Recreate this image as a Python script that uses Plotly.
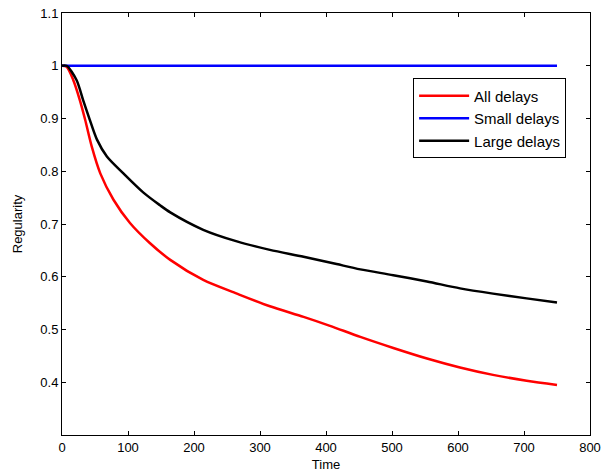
import plotly.graph_objects as go

# Time samples and series values
t_all = [0, 7, 17, 27, 35, 45, 58, 78, 103, 133, 164, 214, 265, 315, 366, 406, 452, 502, 553, 603, 653, 704, 750]
v_all = [1.0, 0.998, 0.973, 0.935, 0.898, 0.847, 0.796, 0.746, 0.702, 0.664, 0.632, 0.594, 0.568, 0.544, 0.524, 0.507, 0.486, 0.465, 0.445, 0.428, 0.414, 0.403, 0.395]

t_small = [0, 750]
v_small = [1.0, 1.0]

t_large = [0, 7, 22, 32, 42, 53, 68, 93, 123, 148, 164, 214, 265, 315, 366, 416, 452, 502, 553, 603, 653, 704, 750]
v_large = [1.0, 1.0, 0.973, 0.935, 0.898, 0.860, 0.828, 0.796, 0.760, 0.736, 0.722, 0.689, 0.667, 0.651, 0.638, 0.624, 0.614, 0.603, 0.591, 0.578, 0.568, 0.559, 0.551]

x_ticks = [0, 100, 200, 300, 400, 500, 600, 700, 800]
y_ticks = [0.4, 0.5, 0.6, 0.7, 0.8, 0.9, 1.0, 1.1]
y_ticktext = ["0.4", "0.5", "0.6", "0.7", "0.8", "0.9", "1", "1.1"]

fam = "Liberation Sans, Arial, sans-serif"
tick_font = dict(family=fam, size=13, color="black")
title_font = dict(family=fam, size=13, color="black")
legend_font = dict(family=fam, size=15, color="black")

fig = go.Figure()
fig.add_trace(go.Scatter(x=t_all, y=v_all, mode="lines", name="All delays",
                         line=dict(color="#ff0000", width=2.5, shape="spline", smoothing=0.8)))
fig.add_trace(go.Scatter(x=t_small, y=v_small, mode="lines", name="Small delays",
                         line=dict(color="#0000ff", width=2.5)))
fig.add_trace(go.Scatter(x=t_large, y=v_large, mode="lines", name="Large delays",
                         line=dict(color="#000000", width=2.5, shape="spline", smoothing=0.8)))

axis_common = dict(showline=True, linecolor="black", linewidth=1, mirror="ticks",
                   ticks="inside", ticklen=4, tickcolor="black", showgrid=False,
                   zeroline=False, tickfont=tick_font, automargin=False)

fig.update_layout(
    width=608, height=475,
    margin=dict(l=62, r=18, t=13, b=40),
    paper_bgcolor="white", plot_bgcolor="white",
    font=tick_font,
    xaxis=dict(range=[0, 800], tickvals=x_ticks,
               title=dict(text="Time", font=title_font, standoff=6), **axis_common),
    yaxis=dict(range=[0.3, 1.1], tickvals=y_ticks, ticktext=y_ticktext,
               title=dict(text="Regularity", font=title_font, standoff=14), **axis_common),
    legend=dict(x=0.665, y=0.845, xanchor="left", yanchor="top",
                bordercolor="black", borderwidth=1, bgcolor="white",
                font=legend_font, tracegroupgap=0, itemwidth=50),
    showlegend=True,
)

fig.write_html("out.html")
